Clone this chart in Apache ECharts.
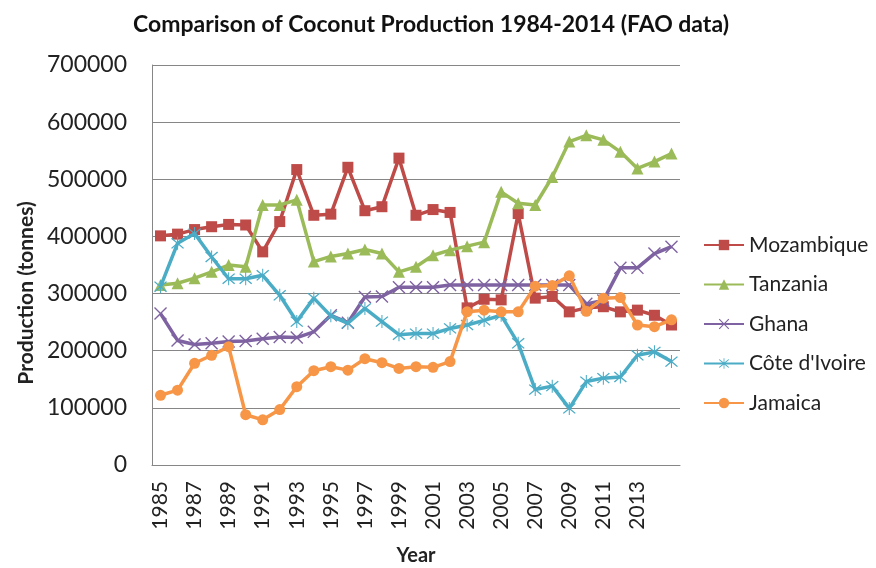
<!DOCTYPE html>
<html>
<head>
<meta charset="utf-8">
<script src="https://cdn.jsdelivr.net/npm/echarts@6/dist/echarts.min.js"></script>
<style>html,body{margin:0;padding:0;background:#fff;}#chart{width:876px;height:568px;}</style>
</head>
<body>
<div id="chart"></div>
<script>
const years = ['1985','1986','1987','1988','1989','1990','1991','1992','1993','1994','1995','1996','1997','1998','1999','2000','2001','2002','2003','2004','2005','2006','2007','2008','2009','2010','2011','2012','2013','2014','2015'];
const mozambique = [401000,404000,412000,417000,421000,420000,373000,426000,517000,437000,439000,521000,445000,452000,537000,437000,447000,442000,275000,290000,289000,440000,292000,295000,268000,275000,277000,268000,271000,262000,245000];
const tanzania = [315000,318000,327000,338000,350000,347000,455000,455000,464000,356000,365000,370000,377000,370000,338000,347000,367000,376000,383000,390000,478000,458000,455000,504000,566000,577000,569000,548000,519000,531000,545000];
const ghana = [265000,218000,211000,213000,216000,217000,221000,224000,223000,233000,262000,249000,294000,295000,311000,311000,311000,315000,315000,315000,315000,315000,315000,315000,315000,282000,288000,345000,345000,370000,382000];
const coteDIvoire = [312000,388000,405000,364000,326000,326000,332000,297000,251000,292000,261000,248000,274000,251000,228000,230000,230000,239000,245000,253000,262000,213000,132000,138000,99000,146000,152000,154000,192000,198000,181000];
const jamaica = [122000,131000,178000,192000,207000,88000,79000,97000,137000,165000,172000,166000,186000,179000,169000,172000,171000,181000,268000,271000,268000,268000,313000,314000,331000,269000,292000,293000,245000,242000,254000];
const seriesNames = ['Mozambique','Tanzania','Ghana',"Côte d'Ivoire",'Jamaica'];
const yTicks = [0,100000,200000,300000,400000,500000,600000,700000];
const shownYearLabels = ['1985','1987','1989','1991','1993','1995','1997','1999','2001','2003','2005','2007','2009','2011','2013'];

const xPath = 'path://M0,1.5 L1.5,0 L10,8.5 L18.5,0 L20,1.5 L11.5,10 L20,18.5 L18.5,20 L10,11.5 L1.5,20 L0,18.5 L8.5,10 Z';
const starPath = 'path://M0,1.5 L1.5,0 L10,8.5 L18.5,0 L20,1.5 L11.5,10 L20,18.5 L18.5,20 L10,11.5 L1.5,20 L0,18.5 L8.5,10 Z M9.2,-2 L10.8,-2 L10.8,22 L9.2,22 Z';

const colors = ['#BE4B48','#9BBB59','#7E62A1','#4BACC6','#F79646'];
const dataSets = [mozambique, tanzania, ghana, coteDIvoire, jamaica];
const symbols = ['rect','triangle',xPath,starPath,'circle'];
const sizes = [11,12,13,13,11];

const chart = echarts.init(document.getElementById('chart'));
const FONT = 'Lato';
chart.setOption({
  animation:false,
  backgroundColor:'#fff',
  color: colors,
  title:{
    text:'Comparison of Coconut Production 1984-2014 (FAO data)',
    left:426, top:8, textAlign:'center',
    textStyle:{fontFamily:FONT, fontWeight:'bold', fontSize:23, color:'#111'}
  },
  legend:{
    orient:'vertical', left:698, top:229, itemWidth:40, itemHeight:13, itemGap:17.5,
    textStyle:{fontFamily:FONT, fontSize:21, color:'#222', lineHeight:22},
    data: seriesNames
  },
  graphic:[{
    type:'text', x:26, y:293, rotation:Math.PI/2,
    style:{text:'Production (tonnes)', fontFamily:FONT, fontWeight:'bold', fontSize:21, fill:'#222', align:'center', verticalAlign:'middle'}
  }],
  grid:{left:152, right:196, top:65, bottom:103, containLabel:false, outerBoundsMode:'none'},
  xAxis:{
    type:'category', data:years, boundaryGap:true,
    name:'Year', nameLocation:'middle', nameGap:81,
    nameTextStyle:{fontFamily:FONT, fontWeight:'bold', fontSize:20, color:'#222'},
    axisLine:{show:true, lineStyle:{color:'#868686', width:1}},
    axisTick:{show:false},
    axisLabel:{interval:0, rotate:90, margin:16, fontFamily:FONT, fontSize:21, color:'#222',
      formatter:function(v){ return shownYearLabels.indexOf(v) >= 0 ? v : ''; }},
    splitLine:{show:false}
  },
  yAxis:{
    type:'value', min:0, max:700000, interval:100000,
    axisLine:{show:true, lineStyle:{color:'#868686', width:1}},
    axisTick:{show:false},
    axisLabel:{margin:25, fontFamily:FONT, fontSize:23, color:'#222',
      formatter:function(v){ return yTicks.indexOf(v) >= 0 ? String(v) : ''; }},
    splitLine:{show:true, lineStyle:{color:'#868686', width:1}}
  },
  series: seriesNames.map(function(n,i){
    return {
      name:n, type:'line', data:dataSets[i],
      symbol:symbols[i], symbolSize:sizes[i], showAllSymbol:true,
      lineStyle:{width:3.5, color:colors[i]},
      itemStyle:{color:colors[i]},
      z: 2 + i
    };
  })
});
</script>
</body>
</html>
